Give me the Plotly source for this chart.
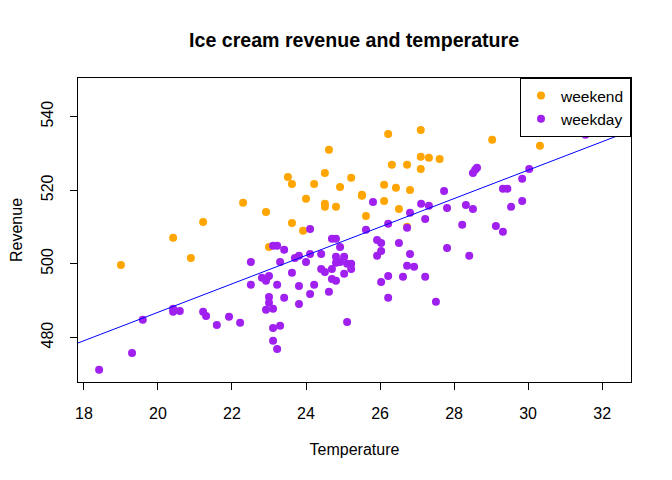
import numpy as np
import plotly.graph_objects as go

# values
weekend_temp = [19.0, 20.41, 20.89, 21.22, 22.30, 22.92, 23.0, 23.51, 23.62, 23.62,
                23.92, 24.0, 24.22, 24.51, 24.51, 24.51, 24.62, 24.81, 24.92, 25.22,
                25.51, 25.51, 26.22, 27.10, 29.03, 30.32, 26.32, 26.73, 27.10, 27.32,
                27.61, 27.10, 26.11, 26.43, 26.81, 26.11, 26.51, 25.62, 26.73]
weekend_rev = [499.7, 507.1, 501.6, 511.4, 516.6, 514.1, 504.6, 523.6, 521.7, 511.1,
               509.0, 517.7, 521.7, 524.7, 516.3, 515.5, 531.0, 515.5, 520.9, 523.4,
               518.8, 518.5, 535.3, 536.4, 533.7, 532.1, 526.9, 526.9, 529.1, 528.8,
               528.5, 525.8, 521.5, 520.7, 520.1, 517.1, 514.9, 513.0, 510.1]

weekday_temp = [18.41, 19.30, 19.59, 20.41, 20.41, 20.59, 21.22, 21.30, 21.59, 21.92,
                22.22, 22.51, 22.51, 22.81, 22.92, 23.0, 23.0, 23.0, 22.92, 23.11,
                23.11, 23.22, 23.41, 23.30, 23.22, 23.41, 23.11, 23.30, 23.11, 23.22,
                23.62, 23.70, 23.81, 24.0, 24.11, 24.11, 24.41, 23.81, 23.81, 24.22,
                24.11, 24.41, 24.51, 24.70, 24.81, 24.92, 24.81, 25.03, 24.81, 24.92,
                25.11, 24.70, 25.03, 24.70, 24.81, 24.62, 25.11, 25.22, 25.22, 25.62,
                25.92, 26.03, 26.51, 26.03, 25.92, 26.81, 26.73, 26.92, 26.22, 26.03,
                26.62, 27.22, 26.22, 27.51, 27.81, 28.41, 26.73, 25.81, 27.73, 27.11,
                27.32, 26.81, 27.81, 27.22, 28.32, 28.22, 26.22, 28.51, 28.57, 28.62,
                30.03, 29.84, 29.32, 29.44, 29.54, 29.84, 29.13, 29.32, 28.51, 31.55]
weekday_rev = [471.2, 475.8, 484.8, 487.8, 487.0, 487.2, 487.0, 485.8, 483.4, 485.6,
               484.0, 500.5, 494.3, 496.2, 495.4, 496.7, 491.0, 489.4, 487.5, 487.8,
               504.9, 504.9, 503.8, 500.5, 494.3, 490.8, 482.6, 483.2, 479.1, 476.9,
               497.6, 501.6, 502.2, 500.5, 509.5, 502.7, 502.7, 494.0, 489.1, 494.3,
               491.8, 498.6, 497.8, 506.8, 506.8, 504.6, 501.9, 501.9, 500.3, 500.5,
               500.0, 498.6, 497.3, 495.9, 495.4, 492.4, 484.2, 500.0, 498.6, 509.3,
               506.5, 505.7, 505.7, 503.5, 502.2, 502.7, 499.5, 499.2, 496.7, 495.1,
               496.5, 496.5, 490.8, 489.7, 504.3, 502.2, 509.8, 516.8, 519.8, 516.3,
               515.8, 513.9, 515.2, 512.2, 516.0, 510.6, 510.9, 524.7, 525.6, 526.1,
               525.8, 523.1, 520.4, 520.4, 515.5, 517.1, 510.3, 508.7, 514.9, 535.1]

# fitted line (intercept, slope) as drawn in the picture
line_intercept = 409.6
line_slope = 3.862

x_range = [17.84, 32.78]
y_range = [467.9, 550.5]
x_ticks = [18, 20, 22, 24, 26, 28, 30, 32]
y_ticks = [480, 500, 520, 540]

fig = go.Figure()
fig.add_trace(go.Scatter(x=weekend_temp, y=weekend_rev, mode="markers", name="weekend",
                         marker=dict(color="#FFA500", size=8)))
fig.add_trace(go.Scatter(x=weekday_temp, y=weekday_rev, mode="markers", name="weekday",
                         marker=dict(color="#A020F0", size=8)))

line_x = np.array(x_range)
fig.add_trace(go.Scatter(x=line_x, y=line_intercept + line_slope * line_x, mode="lines",
                         line=dict(color="blue", width=1), showlegend=False, hoverinfo="skip"))

axis_style = dict(showgrid=False, zeroline=False, showline=True, mirror=True,
                  linecolor="black", linewidth=1, ticks="outside", ticklen=7,
                  tickcolor="black", tickfont=dict(size=16, color="black"),
                  automargin=False)

# the page puts the figure 8px in from the top-left corner
fig.update_layout(
    width=672, height=480,
    paper_bgcolor="white", plot_bgcolor="white",
    font=dict(family="Liberation Sans, Arial, sans-serif", color="black"),
    margin=dict(l=70, r=49, t=70, b=106),
    title=dict(text="<b>Ice cream revenue and temperature</b>", x=0.515, xanchor="center",
               y=0.933, yanchor="middle", font=dict(size=19.6, color="black")),
    xaxis=dict(range=x_range, tickvals=x_ticks, ticklabelstandoff=10,
               title=dict(text="Temperature", standoff=22, font=dict(size=16)), **axis_style),
    yaxis=dict(range=y_range, tickvals=y_ticks, tickangle=-90, ticklabelstandoff=11,
               title=dict(text="Revenue", standoff=18, font=dict(size=16)), **axis_style),
    legend=dict(x=1, y=1, xanchor="right", yanchor="top", bordercolor="black", borderwidth=1,
                bgcolor="white", font=dict(size=15.5), itemwidth=30, tracegroupgap=0),
)

fig.write_html("out.html")
